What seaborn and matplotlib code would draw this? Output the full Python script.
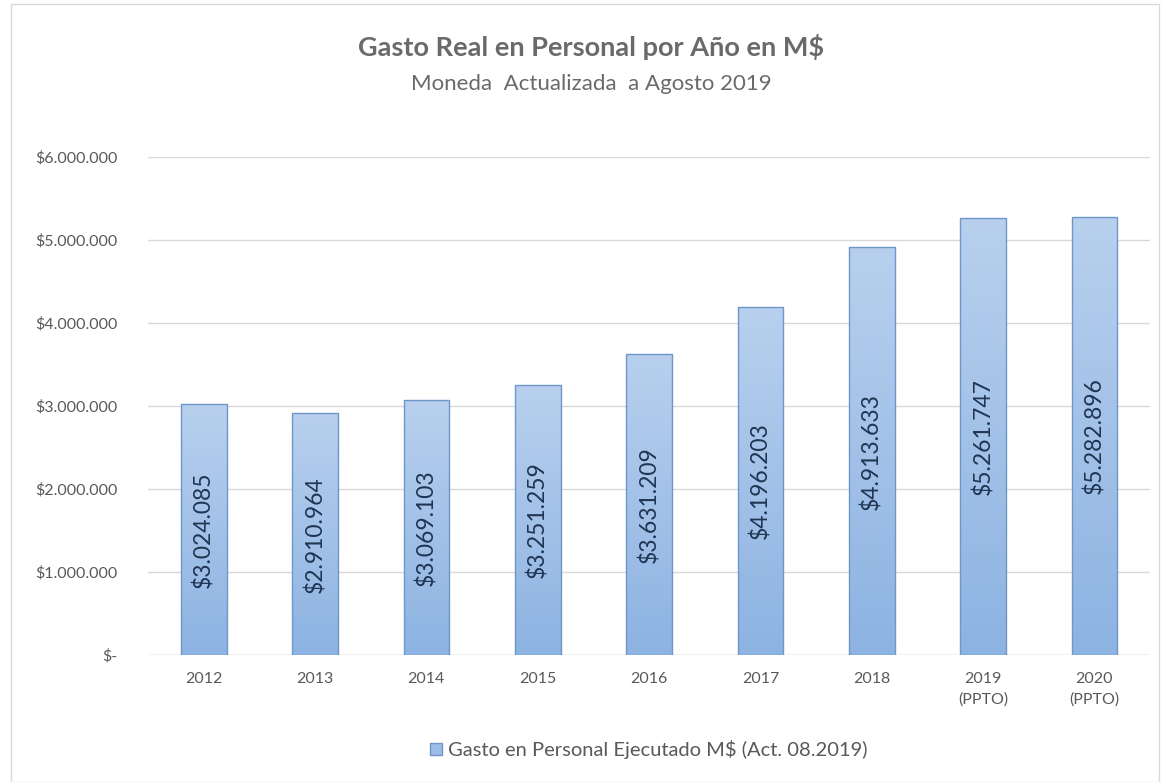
import pandas as pd
import matplotlib.pyplot as plt
import seaborn as sns
import numpy as np
from matplotlib.patches import Rectangle

# datos
years = ['2012', '2013', '2014', '2015', '2016', '2017', '2018', '2019\n(PPTO)', '2020\n(PPTO)']
gasto = [3024085, 2910964, 3069103, 3251259, 3631209, 4196203, 4913633, 5261747, 5282896]
yticks = [0, 1000000, 2000000, 3000000, 4000000, 5000000, 6000000]
serie = 'Gasto en Personal Ejecutado M$ (Act. 08.2019)'


def pesos(v):
	if v == 0:
		return '$-'
	return '$' + f'{int(v):,}'.replace(',', '.')


sns.set_theme(style='white')
plt.rcParams['font.family'] = ['Lato', 'DejaVu Sans']

df = pd.DataFrame({'anio': years, 'gasto': gasto})

fig = plt.figure(figsize=(11.7, 7.82), dpi=100)
fig.patches.append(Rectangle((0.009, 0.0), 0.982, 0.995, transform=fig.transFigure,
	fill=False, edgecolor='#d9d9d9', lw=1.0))
ax = fig.add_axes([0.1265, 0.1624, 0.8565, 0.6368])

sns.barplot(data=df, x='anio', y='gasto', color='#9dbde6', width=0.41,
	edgecolor='#6f96c8', linewidth=1.0, ax=ax, zorder=3)

# degradado vertical dentro de cada barra
grad = np.linspace(0, 1, 256).reshape(-1, 1)
cmap = sns.blend_palette(['#8db3e2', '#b8d0ee'], as_cmap=True)
for bar in ax.patches:
	x0, w, h = bar.get_x(), bar.get_width(), bar.get_height()
	im = ax.imshow(grad, extent=[x0, x0 + w, 0, h], origin='lower', aspect='auto',
		cmap=cmap, zorder=3.5)
	im.set_clip_path(bar)
	bar.set_facecolor('none')
	bar.set_zorder(4)

for bar, v in zip(ax.patches, gasto):
	ax.text(bar.get_x() + bar.get_width() / 2, v / 2, pesos(v), rotation=90,
		ha='center', va='center', fontsize=16.5, color='#1f3552', zorder=5)

ax.set_xlim(-0.5, len(years) - 0.5)
ax.set_ylim(0, 6000000)
ax.set_yticks(yticks)
ax.set_yticklabels([pesos(v) for v in yticks])
for lbl in ax.get_xticklabels():
	lbl.set_linespacing(1.55)
ax.set_xlabel('')
ax.set_ylabel('')
ax.tick_params(axis='both', length=0, labelsize=11.5, labelcolor='#595959')
ax.tick_params(axis='y', pad=22)
ax.tick_params(axis='x', pad=12)
ax.grid(axis='y', color='#d9d9d9', lw=1.0, zorder=0)
ax.set_axisbelow(True)
sns.despine(ax=ax, left=True, bottom=True)
ax.axhline(0, color='#d9d9d9', lw=1.0, zorder=1)

fig.text(0.505, 0.94, 'Gasto Real en Personal por Año en M$', ha='center', va='center',
	fontsize=19.5, fontweight='bold', color='#6a6a6a')
fig.text(0.505, 0.892, 'Moneda  Actualizada  a Agosto 2019', ha='center', va='center',
	fontsize=16, color='#6a6a6a')

ax.legend(handles=[Rectangle((0, 0), 1, 1, facecolor='#9dbde6', edgecolor='#6f96c8')],
	labels=[serie], loc='center', bbox_to_anchor=(0.5, -0.19), frameon=False,
	fontsize=14.5, labelcolor='#595959', handlelength=0.6, handleheight=0.6,
	handletextpad=0.3)

fig.savefig('out.png', dpi=100)
